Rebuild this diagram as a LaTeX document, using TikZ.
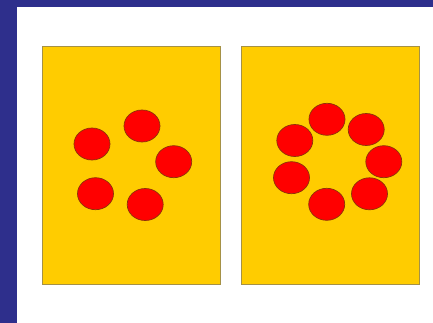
\documentclass[tikz,border=0pt]{standalone}
\usetikzlibrary{shapes.geometric}
\definecolor{frameblue}{RGB}{46,47,140}
\definecolor{panelyellow}{RGB}{255,204,0}
\definecolor{paneledge}{RGB}{165,145,70}
\definecolor{dotred}{RGB}{255,0,0}
\definecolor{dotedge}{RGB}{140,50,10}
\tikzset{
  panel/.style={fill=panelyellow, draw=paneledge, line width=0.8pt},
  dot/.style={ellipse, fill=dotred, draw=dotedge, line width=0.7pt, minimum width=36pt, minimum height=32pt, inner sep=0pt}
}
\begin{document}
\begin{tikzpicture}[x=1pt,y=-1pt]
\useasboundingbox (0,0) rectangle (433,323);
\fill[white] (0,0) rectangle (433,323);
\fill[frameblue] (0,0) rectangle (433,7);
\fill[frameblue] (0,0) rectangle (17,323);
\draw[panel] (42,46) rectangle (220,284);
\draw[panel] (241,46) rectangle (419,284);
% left panel dots
\node[dot] (l1) at (92,144) {};
\node[dot] (l2) at (142,126) {};
\node[dot] (l3) at (173.7,161.7) {};
\node[dot] (l4) at (95.5,193.7) {};
\node[dot] (l5) at (145.2,204.5) {};
% right panel dots
\node[dot] (r1) at (327,119.3) {};
\node[dot] (r2) at (366.2,129.5) {};
\node[dot] (r3) at (294.8,140.5) {};
\node[dot] (r4) at (383.8,161.7) {};
\node[dot] (r5) at (291.5,177.7) {};
\node[dot] (r6) at (369.5,193.8) {};
\node[dot] (r7) at (326.7,204.3) {};
\end{tikzpicture}
\end{document}
